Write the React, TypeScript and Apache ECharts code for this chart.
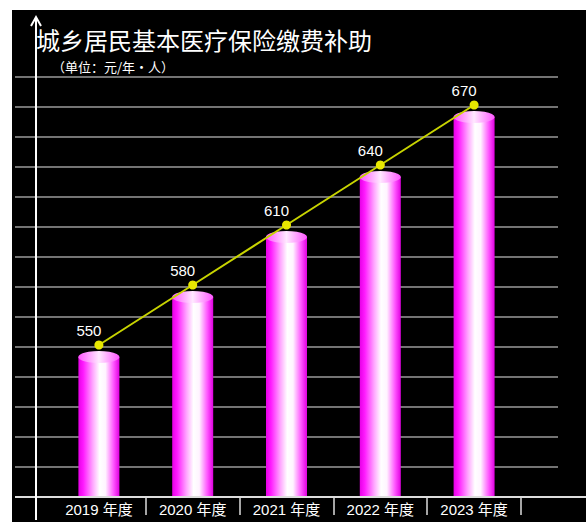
import React, { useEffect, useRef } from "react";
import * as echarts from "echarts";

const categories = ["2019 年度", "2020 年度", "2021 年度", "2022 年度", "2023 年度"];
const subsidyValues = [550, 580, 610, 640, 670];
const titleText = "城乡居民基本医疗保险缴费补助";
const unitText = "（单位：元/年・人）";

export default function App() {
  const ref = useRef<HTMLDivElement>(null);
  useEffect(() => {
    document.body.style.margin = "0";
    const chart = echarts.init(ref.current!, null, { renderer: "svg" });
    const barGrad = new echarts.graphic.LinearGradient(0, 0, 1, 0, [
      { offset: 0, color: "#e600e6" },
      { offset: 0.12, color: "#ff1aff" },
      { offset: 0.35, color: "#ffa6ff" },
      { offset: 0.52, color: "#ffffff" },
      { offset: 0.66, color: "#fff4ff" },
      { offset: 0.86, color: "#ff55ff" },
      { offset: 1, color: "#e000e0" },
    ]);
    const capGrad = new echarts.graphic.LinearGradient(0, 0, 1, 0, [
      { offset: 0, color: "#ff55ff" },
      { offset: 0.5, color: "#ffe8ff" },
      { offset: 1, color: "#ff55ff" },
    ]);
    const fontFamily = "'Liberation Sans', 'Noto Sans CJK SC', sans-serif";
    chart.setOption({
      animation: false,
      backgroundColor: "#000",
      title: [
        {
          text: titleText,
          left: 36,
          top: 26,
          padding: 0,
          textStyle: { color: "#fff", fontSize: 24, lineHeight: 26, fontWeight: "normal", fontFamily: "'Noto Sans CJK SC'" },
        },
        {
          text: unitText,
          left: 52,
          top: 59,
          padding: 0,
          textStyle: { color: "#fff", fontSize: 13, lineHeight: 14, fontWeight: "normal", fontFamily: "'Noto Sans CJK SC'" },
        },
      ],
      grid: [
        { left: 52, right: 65, top: 77, bottom: 25 },
        { left: 15, right: 28, top: 77, bottom: 25 },
      ],
      xAxis: [
        {
          type: "category",
          gridIndex: 0,
          data: categories,
          boundaryGap: true,
          axisLine: { show: false },
          axisTick: {
            show: true,
            length: 18,
            interval: (index: number) => index !== 0,
            lineStyle: { color: "#dddddd", width: 1.5 },
          },
          axisLabel: { color: "#fff", fontSize: 15, margin: 5, fontFamily },
        },
        { type: "value", gridIndex: 1, min: 0, max: 1, show: false },
      ],
      yAxis: [
        { type: "value", gridIndex: 0, min: 480, max: 690, interval: 15, show: false },
        { type: "value", gridIndex: 0, min: 474, max: 684, show: false },
        {
          type: "value",
          gridIndex: 1,
          min: 0,
          max: 14,
          interval: 1,
          axisLine: { show: false },
          axisTick: { show: false },
          axisLabel: { show: false },
          splitLine: { show: true, lineStyle: { color: "#9a9a9a", width: 1.5 } },
        },
      ],
      graphic: [
        { type: "rect", shape: { x: 0, y: 0, width: 586, height: 10 }, style: { fill: "#fff" }, z: 100 },
        { type: "rect", shape: { x: 0, y: 0, width: 12, height: 522 }, style: { fill: "#fff" }, z: 100 },
        { type: "line", shape: { x1: 15, y1: 497, x2: 586, y2: 497 }, style: { stroke: "#dddddd", lineWidth: 2 }, z: 50 },
        { type: "line", shape: { x1: 36, y1: 17, x2: 36, y2: 520 }, style: { stroke: "#ffffff", lineWidth: 2 }, z: 50 },
        { type: "polyline", shape: { points: [[31, 26], [36, 17], [41, 26]] }, style: { stroke: "#ffffff", lineWidth: 2, fill: null }, z: 50 },
      ],
      series: [
        {
          type: "bar",
          xAxisIndex: 0,
          yAxisIndex: 0,
          data: subsidyValues,
          barWidth: 41,
          itemStyle: { color: barGrad },
          z: 2,
        },
        {
          type: "pictorialBar",
          xAxisIndex: 0,
          yAxisIndex: 0,
          data: subsidyValues,
          symbol: "circle",
          symbolSize: [41, 12],
          symbolPosition: "end",
          symbolOffset: [0, "-50%"],
          itemStyle: { color: capGrad },
          z: 3,
        },
        {
          type: "line",
          xAxisIndex: 0,
          yAxisIndex: 1,
          data: subsidyValues,
          symbol: "circle",
          symbolSize: 9,
          lineStyle: { color: "#c8d400", width: 2 },
          itemStyle: { color: "#e8e800" },
          label: {
            show: true,
            position: "top",
            distance: 3,
            offset: [-10, 0],
            color: "#fff",
            fontSize: 15,
            fontFamily,
          },
          z: 5,
        },
      ],
    });
    return () => chart.dispose();
  }, []);
  return <div ref={ref} style={{ width: 586, height: 522 }} />;
}
